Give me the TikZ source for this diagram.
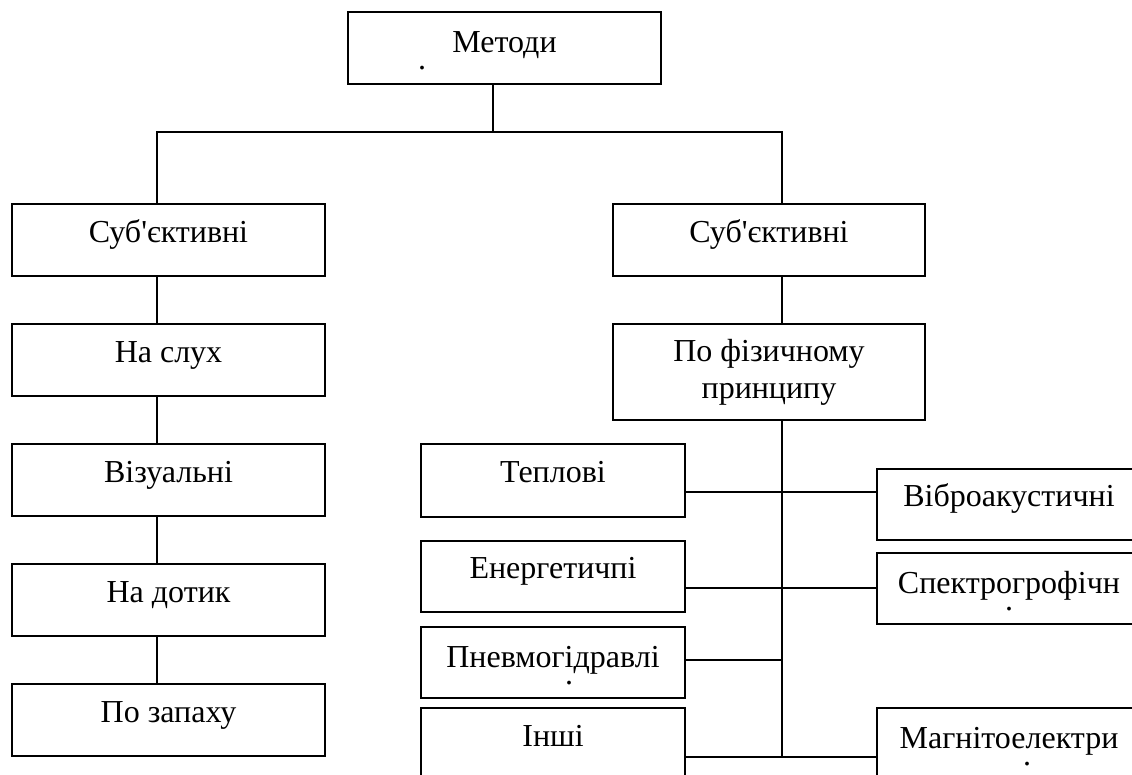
\documentclass[tikz,border=0pt]{standalone}
\usepackage{fontspec}
\setmainfont{Liberation Serif}[Ligatures=TeXOff]
\begin{document}
\begin{tikzpicture}[x=1pt,y=-1pt,
  box/.style={draw=black, line width=1.7pt, rectangle, inner sep=0pt, outer sep=0pt,
    font=\fontsize{32}{37}\selectfont, text height=0.7em, text depth=0.25em},
  box2/.style={draw=black, line width=1.7pt, rectangle, inner sep=0pt, outer sep=0pt,
    font=\fontsize{32}{37}\selectfont, align=center},
  conn/.style={draw=black, line width=1.7pt}]
\useasboundingbox (0,0) rectangle (1132,775);
\clip (0,0) rectangle (1132,775);
% top
\node[box2, minimum width=313pt, minimum height=72pt] (m) at (504.5,48)
  {\rule{0pt}{26pt}Методи\\[-20pt]\makebox[0pt][r]{.\hspace*{78.5pt}}};
% left column
\node[box, minimum width=313pt, minimum height=72pt] (s1) at (168.5,240) {Суб'єктивні};
\node[box, minimum width=313pt, minimum height=72pt] (l2) at (168.5,360) {На слух};
\node[box, minimum width=313pt, minimum height=72pt] (l3) at (168.5,480) {Візуальні};
\node[box, minimum width=313pt, minimum height=72pt] (l4) at (168.5,600) {На дотик};
\node[box, minimum width=313pt, minimum height=72pt] (l5) at (168.5,720) {По запаху};
% right column
\node[box, minimum width=312pt, minimum height=72pt] (s2) at (769,240) {Суб'єктивні};
\node[box2, minimum width=312pt, minimum height=96pt] (pf) at (769,372) {По фізичному\\принципу};
% bottom left boxes
\node[box, minimum width=264pt, minimum height=73pt] (t) at (553,480.5) {Теплові};
\node[box, minimum width=264pt, minimum height=71pt] (e) at (553,576.5) {Енергетичпі};
\node[box2, minimum width=264pt, minimum height=71pt] (p) at (553,662.5)
  {\rule{0pt}{27pt}Пневмогідравлі\\[-20pt]\makebox[0pt][l]{\hspace*{12pt}.}};
\node[box, minimum width=264pt, minimum height=72pt] (i) at (553,744) {Інші};
% bottom right boxes
\node[box, minimum width=264pt, minimum height=71pt] (v) at (1009,504.5) {Віброакустичні};
\node[box2, minimum width=264pt, minimum height=71pt] (sp) at (1009,588.5)
  {\rule{0pt}{27pt}Спектрогрофічн\\[-20pt]\makebox[0pt]{.}};
\node[box2, minimum width=264pt, minimum height=72pt] (mg) at (1009,744)
  {\rule{0pt}{27pt}Магнітоелектри\\[-20pt]\makebox[0pt][l]{\hspace*{14pt}.}};
% connectors
\coordinate (bus) at (493,132);
\draw[conn] ([xshift=-11.5pt]m.south) -- (bus);
\draw[conn] ([xshift=-11.5pt]s1.north) |- (bus) -| ([xshift=13pt]s2.north);
\draw[conn] ([xshift=-11.5pt]s1.south) -- ([xshift=-11.5pt]l2.north);
\draw[conn] ([xshift=-11.5pt]l2.south) -- ([xshift=-11.5pt]l3.north);
\draw[conn] ([xshift=-11.5pt]l3.south) -- ([xshift=-11.5pt]l4.north);
\draw[conn] ([xshift=-11.5pt]l4.south) -- ([xshift=-11.5pt]l5.north);
\draw[conn] ([xshift=13pt]s2.south) -- ([xshift=13pt]pf.north);
\coordinate (j1) at (782,492);
\coordinate (j2) at (782,588);
\coordinate (j3) at (782,660);
\coordinate (j4) at (782,757);
\draw[conn] ([xshift=13pt]pf.south) -- (j4);
\draw[conn] (t.east |- j1) -- (v.west |- j1);
\draw[conn] (e.east |- j2) -- (sp.west |- j2);
\draw[conn] (p.east |- j3) -- (j3);
\draw[conn] (i.east |- j4) -- (mg.west |- j4);
\end{tikzpicture}
\end{document}
